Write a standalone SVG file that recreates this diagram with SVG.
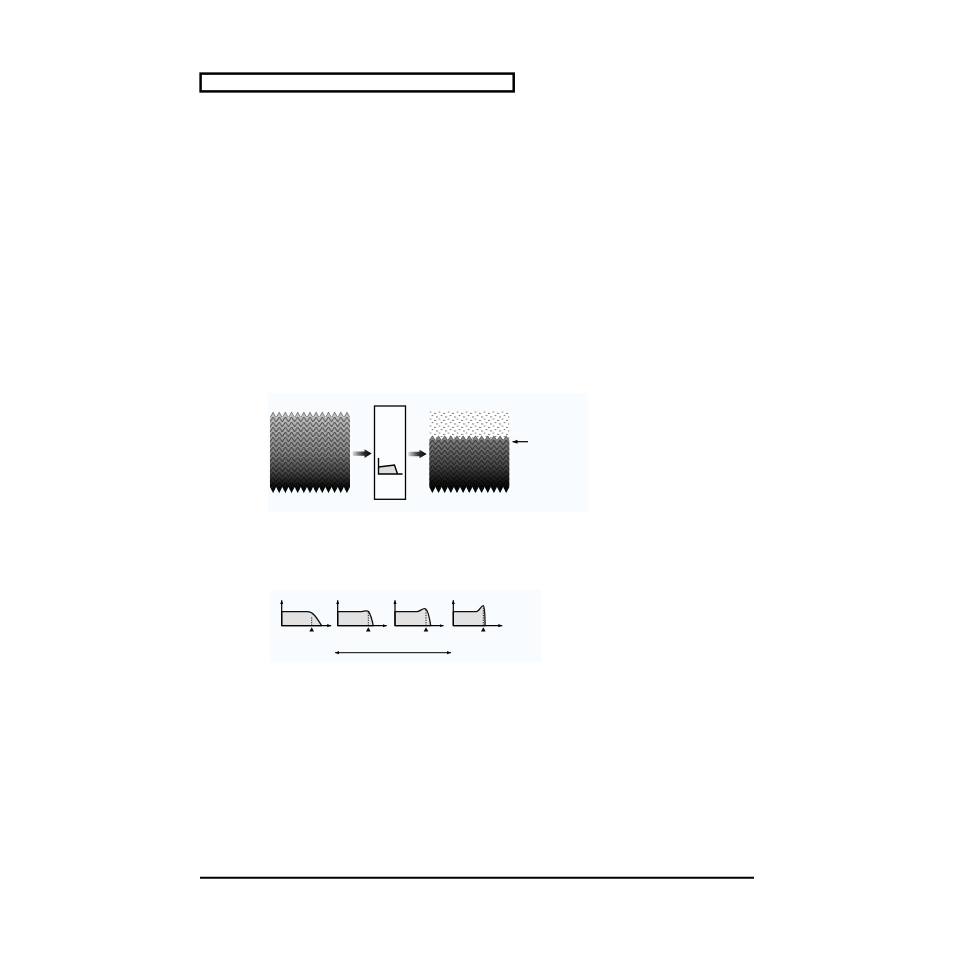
<svg xmlns="http://www.w3.org/2000/svg" width="954" height="954" viewBox="0 0 954 954">
<style>
.panel{fill:#f9fcfe}
.ln{fill:none;stroke:#000;stroke-width:1.2}
.crv{fill:#e2e2e2;stroke:#111;stroke-width:1.3;stroke-linejoin:round}
.dot{fill:none;stroke:#000;stroke-width:0.9;stroke-dasharray:1.2 1.2}
.tri{fill:#000}
</style>
<defs>
<linearGradient id="gL" x1="0" y1="0" x2="0" y2="1">
<stop offset="0" stop-color="#cacaca"/>
<stop offset="0.5" stop-color="#858585"/>
<stop offset="0.75" stop-color="#454545"/>
<stop offset="0.9" stop-color="#121212"/>
<stop offset="1" stop-color="#000"/>
</linearGradient>
<linearGradient id="gR" x1="0" y1="0" x2="0" y2="1">
<stop offset="0" stop-color="#8a8a8a"/>
<stop offset="0.5" stop-color="#4a4a4a"/>
<stop offset="0.8" stop-color="#141414"/>
<stop offset="1" stop-color="#000"/>
</linearGradient>
<linearGradient id="gA" x1="0" y1="0" x2="1" y2="0">
<stop offset="0" stop-color="#d8d8d8"/>
<stop offset="0.55" stop-color="#333"/>
<stop offset="1" stop-color="#000"/>
</linearGradient>
<pattern id="chL" patternUnits="userSpaceOnUse" x="270" y="417" width="6.154" height="5">
<path d="M0,5 L3.077,0 L6.154,5" fill="none" stroke="#000" stroke-opacity="0.55" stroke-width="1"/>
</pattern>
<pattern id="chR" patternUnits="userSpaceOnUse" x="429.3" y="440" width="6.154" height="5">
<path d="M0,5 L3.077,0 L6.154,5" fill="none" stroke="#000" stroke-opacity="0.55" stroke-width="1"/>
</pattern>
<pattern id="dots" patternUnits="userSpaceOnUse" x="429.3" y="411" width="9" height="7">
<circle cx="1.2" cy="1" r="0.6" fill="#111"/>
<circle cx="5.8" cy="2.4" r="0.6" fill="#111"/>
<circle cx="3.2" cy="4.6" r="0.6" fill="#111"/>
<circle cx="7.8" cy="5.9" r="0.6" fill="#111"/>
</pattern>
<marker id="ah" viewBox="0 0 10 10" refX="10" refY="5" markerWidth="5" markerHeight="5" orient="auto-start-reverse" markerUnits="userSpaceOnUse">
<path d="M0,1 L10,5 L0,9 Z" fill="#000"/>
</marker>
<marker id="ahs" viewBox="0 0 10 10" refX="10" refY="5" markerWidth="4" markerHeight="4" orient="auto-start-reverse" markerUnits="userSpaceOnUse">
<path d="M0,1 L10,5 L0,9 Z" fill="#000"/>
</marker>
</defs>

<g id="header">
<rect x="200.6" y="73.6" width="313.1" height="17.8" fill="none" stroke="#000" stroke-width="2.5"/>
</g>
<g id="footer">
<line x1="200" y1="877.7" x2="754" y2="877.7" stroke="#000" stroke-width="2"/>
</g>

<g id="panel1">
<rect class="panel" x="268" y="393" width="319.5" height="119"/>
</g>

<g id="source-wave">
<path d="M270,417 l3.077,-5.5 3.077,5.5 3.077,-5.5 3.077,5.5 3.077,-5.5 3.077,5.5 3.077,-5.5 3.077,5.5 3.077,-5.5 3.077,5.5 3.077,-5.5 3.077,5.5 3.077,-5.5 3.077,5.5 3.077,-5.5 3.077,5.5 3.077,-5.5 3.077,5.5 3.077,-5.5 3.077,5.5 3.077,-5.5 3.077,5.5 3.077,-5.5 3.077,5.5 3.077,-5.5 3.077,5.5 L350,487 l-3.077,6 -3.077,-6 -3.077,6 -3.077,-6 -3.077,6 -3.077,-6 -3.077,6 -3.077,-6 -3.077,6 -3.077,-6 -3.077,6 -3.077,-6 -3.077,6 -3.077,-6 -3.077,6 -3.077,-6 -3.077,6 -3.077,-6 -3.077,6 -3.077,-6 -3.077,6 -3.077,-6 -3.077,6 -3.077,-6 -3.077,6 -3.077,-6 Z" fill="url(#gL)"/>
<path d="M270,417 l3.077,-5.5 3.077,5.5 3.077,-5.5 3.077,5.5 3.077,-5.5 3.077,5.5 3.077,-5.5 3.077,5.5 3.077,-5.5 3.077,5.5 3.077,-5.5 3.077,5.5 3.077,-5.5 3.077,5.5 3.077,-5.5 3.077,5.5 3.077,-5.5 3.077,5.5 3.077,-5.5 3.077,5.5 3.077,-5.5 3.077,5.5 3.077,-5.5 3.077,5.5 3.077,-5.5 3.077,5.5 L350,487 l-3.077,6 -3.077,-6 -3.077,6 -3.077,-6 -3.077,6 -3.077,-6 -3.077,6 -3.077,-6 -3.077,6 -3.077,-6 -3.077,6 -3.077,-6 -3.077,6 -3.077,-6 -3.077,6 -3.077,-6 -3.077,6 -3.077,-6 -3.077,6 -3.077,-6 -3.077,6 -3.077,-6 -3.077,6 -3.077,-6 -3.077,6 -3.077,-6 Z" fill="url(#chL)"/>
</g>

<g id="filter-box">
<rect x="374.5" y="406" width="31" height="93.3" fill="#fbfdfe" stroke="#000" stroke-width="1.3"/>
<path d="M378.5,467 L394.5,465 L397.5,474 L378.5,474 Z" fill="#ddd" stroke="none"/>
<path d="M378.5,458 L378.5,474 L402.5,474" fill="none" stroke="#000" stroke-width="1.4"/>
<path d="M378.5,467 L394.5,465 L397.5,474" fill="none" stroke="#000" stroke-width="1.4"/>
</g>

<g id="output-wave">
<rect x="429.3" y="411" width="80" height="30" fill="#fff"/>
<rect x="429.3" y="411" width="80" height="30" fill="url(#dots)"/>
<path d="M429.3,440 l3.077,-4.5 3.077,4.5 3.077,-4.5 3.077,4.5 3.077,-4.5 3.077,4.5 3.077,-4.5 3.077,4.5 3.077,-4.5 3.077,4.5 3.077,-4.5 3.077,4.5 3.077,-4.5 3.077,4.5 3.077,-4.5 3.077,4.5 3.077,-4.5 3.077,4.5 3.077,-4.5 3.077,4.5 3.077,-4.5 3.077,4.5 3.077,-4.5 3.077,4.5 3.077,-4.5 3.077,4.5 L509.3,487 l-3.077,6 -3.077,-6 -3.077,6 -3.077,-6 -3.077,6 -3.077,-6 -3.077,6 -3.077,-6 -3.077,6 -3.077,-6 -3.077,6 -3.077,-6 -3.077,6 -3.077,-6 -3.077,6 -3.077,-6 -3.077,6 -3.077,-6 -3.077,6 -3.077,-6 -3.077,6 -3.077,-6 -3.077,6 -3.077,-6 -3.077,6 -3.077,-6 Z" fill="url(#gR)"/>
<path d="M429.3,440 l3.077,-4.5 3.077,4.5 3.077,-4.5 3.077,4.5 3.077,-4.5 3.077,4.5 3.077,-4.5 3.077,4.5 3.077,-4.5 3.077,4.5 3.077,-4.5 3.077,4.5 3.077,-4.5 3.077,4.5 3.077,-4.5 3.077,4.5 3.077,-4.5 3.077,4.5 3.077,-4.5 3.077,4.5 3.077,-4.5 3.077,4.5 3.077,-4.5 3.077,4.5 3.077,-4.5 3.077,4.5 L509.3,487 l-3.077,6 -3.077,-6 -3.077,6 -3.077,-6 -3.077,6 -3.077,-6 -3.077,6 -3.077,-6 -3.077,6 -3.077,-6 -3.077,6 -3.077,-6 -3.077,6 -3.077,-6 -3.077,6 -3.077,-6 -3.077,6 -3.077,-6 -3.077,6 -3.077,-6 -3.077,6 -3.077,-6 -3.077,6 -3.077,-6 -3.077,6 -3.077,-6 Z" fill="url(#chR)"/>
</g>

<g id="connectors">
<polygon points="352.7,451.4 364.5,451.4 364.5,449.3 371.7,453.6 364.5,457.9 364.5,455.8 352.7,455.8" fill="url(#gA)"/>
<polygon points="408.3,451.8 419.5,451.8 419.5,449.7 426.7,454 419.5,458.3 419.5,456.2 408.3,456.2" fill="url(#gA)"/>
<line x1="528" y1="441.7" x2="512.5" y2="441.7" stroke="#000" stroke-width="1.2" marker-end="url(#ah)"/>
</g>

<g id="panel2">
<rect class="panel" x="270" y="590" width="271" height="72"/>
</g>

<g id="curve1" transform="translate(281.7,625.7)">
<path d="M0,0 L0,-14 L26,-14 C32,-14 36,-6 40,0 Z" class="crv"/>
<line x1="30" y1="0" x2="30" y2="-9.5" class="dot"/>
<line x1="0" y1="0" x2="0" y2="-25.5" class="ln" marker-end="url(#ahs)"/>
<line x1="0" y1="0" x2="49.5" y2="0" class="ln" marker-end="url(#ahs)"/>
<path d="M30,1.5 L32.3,5.8 L27.7,5.8 Z" class="tri"/>
</g>

<g id="curve2" transform="translate(337.7,625.7)">
<path d="M0,0 L0,-14 L24,-14 C27,-14.5 29,-16 31,-14 C33,-11 34.5,-5 35.6,0 Z" class="crv"/>
<line x1="30.6" y1="0" x2="30.6" y2="-14.5" class="dot"/>
<line x1="0" y1="0" x2="0" y2="-25.5" class="ln" marker-end="url(#ahs)"/>
<line x1="0" y1="0" x2="49" y2="0" class="ln" marker-end="url(#ahs)"/>
<path d="M30.6,1.5 L32.9,5.8 L28.3,5.8 Z" class="tri"/>
</g>

<g id="curve3" transform="translate(395,625.7)">
<path d="M0,0 L0,-14 L22,-14 C25,-14 27,-17.5 30,-17 C33,-16.5 34.5,-8 35.7,0 Z" class="crv"/>
<line x1="31" y1="0" x2="31" y2="-16.5" class="dot"/>
<line x1="0" y1="0" x2="0" y2="-25.5" class="ln" marker-end="url(#ahs)"/>
<line x1="0" y1="0" x2="48.5" y2="0" class="ln" marker-end="url(#ahs)"/>
<path d="M31,1.5 L33.3,5.8 L28.7,5.8 Z" class="tri"/>
</g>

<g id="curve4" transform="translate(453.3,625.7)">
<path d="M0,0 L0,-14 L23,-14 C26,-14 28,-20.5 30,-20 C31.5,-19 31.7,-10 31.8,0 Z" class="crv"/>
<line x1="30" y1="0" x2="30" y2="-19" class="dot"/>
<line x1="0" y1="0" x2="0" y2="-25.5" class="ln" marker-end="url(#ahs)"/>
<line x1="0" y1="0" x2="49" y2="0" class="ln" marker-end="url(#ahs)"/>
<path d="M30,1.5 L32.3,5.8 L27.7,5.8 Z" class="tri"/>
</g>

<g id="range-arrow">
<line x1="335" y1="652.7" x2="451" y2="652.7" stroke="#000" stroke-width="1" marker-start="url(#ahs)" marker-end="url(#ahs)"/>
</g>
</svg>
